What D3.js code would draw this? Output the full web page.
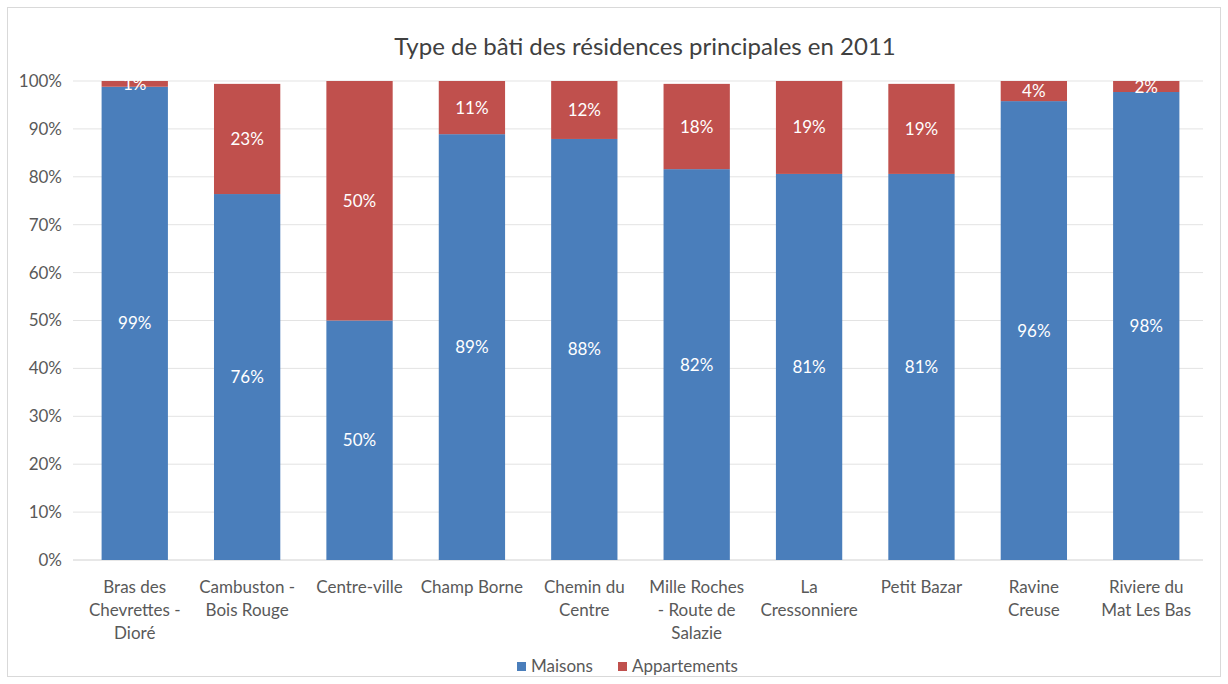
<!DOCTYPE html>
<html>
<head>
<meta charset="utf-8">
<script src="https://cdn.jsdelivr.net/npm/d3@7"></script>
<style>
  body { margin: 0; background: #fff; }
  svg { font-family: Lato, "Open Sans", sans-serif; }
</style>
</head>
<body>
<svg id="chart" width="1228" height="684"></svg>
<script>
// data
const categories = [
  "Bras des|Chevrettes -|Dioré", "Cambuston -|Bois Rouge", "Centre-ville", "Champ Borne",
  "Chemin du|Centre", "Mille Roches|- Route de|Salazie", "La|Cressonniere", "Petit Bazar",
  "Ravine|Creuse", "Riviere du|Mat Les Bas"
];
const maisons = [98.8, 76.4, 50.0, 88.9, 87.9, 81.6, 80.6, 80.6, 95.8, 97.7];
const appartements = [1.2, 23.0, 50.0, 11.1, 12.1, 17.8, 19.4, 18.8, 4.2, 2.3];
const maisonsLabels = ["99%", "76%", "50%", "89%", "88%", "82%", "81%", "81%", "96%", "98%"];
const appartLabels = ["1%", "23%", "50%", "11%", "12%", "18%", "19%", "19%", "4%", "2%"];
const yTicks = [0, 10, 20, 30, 40, 50, 60, 70, 80, 90, 100];
const seriesNames = ["Maisons", "Appartements"];
const colors = ["#4a7ebb", "#c0504d"];

let svg = d3.select("#chart"),
    margin = {top: 81, right: 25, bottom: 124, left: 78},
    width = +svg.attr("width") - margin.left - margin.right,
    height = +svg.attr("height") - margin.top - margin.bottom;

// chart border
svg.append("rect")
  .attr("x", 7.5).attr("y", 7.5)
  .attr("width", 1213).attr("height", 669)
  .attr("fill", "none").attr("stroke", "#d9d9d9");

svg.append("text")
  .attr("x", 645).attr("y", 55)
  .attr("text-anchor", "middle")
  .attr("font-size", 24)
  .attr("fill", "#404040")
  .text("Type de bâti des résidences principales en 2011");

let g = svg.append("g").attr("transform", "translate(" + margin.left + "," + margin.top + ")");

let x = d3.scaleBand()
  .domain(categories)
  .range([0, width])
  .paddingInner(0.41)
  .paddingOuter(0.21);

let y = d3.scaleLinear()
  .domain([0, 100])
  .range([height, 0]);

// gridlines
g.append("g")
  .selectAll("line")
  .data(yTicks)
  .join("line")
  .attr("x1", -5).attr("x2", width)
  .attr("y1", d => y(d)).attr("y2", d => y(d))
  .attr("stroke", d => d === 0 ? "#d0d0d0" : "#e3e3e3");

// y axis labels
let yAxis = g.append("g")
  .call(d3.axisLeft(y).tickValues(yTicks).tickFormat(d => d + "%").tickSize(0).tickPadding(16));
yAxis.select(".domain").remove();
yAxis.selectAll("text").attr("font-size", 17).attr("fill", "#595959").attr("font-family", "Lato, 'Open Sans', sans-serif");

let rows = categories.map((c, i) => ({cat: c, Maisons: maisons[i], Appartements: appartements[i], i: i}));
let stacked = d3.stack().keys(seriesNames)(rows);

let layers = g.selectAll(".layer")
  .data(stacked)
  .join("g")
  .attr("class", "layer")
  .attr("fill", (d, i) => colors[i]);

layers.selectAll("rect")
  .data(d => d)
  .join("rect")
  .attr("x", d => x(d.data.cat))
  .attr("y", d => y(d[1]))
  .attr("width", x.bandwidth())
  .attr("height", d => y(d[0]) - y(d[1]));

// value labels
layers.selectAll("text")
  .data((d, li) => d.map(p => ({p: p, li: li})))
  .join("text")
  .attr("x", d => x(d.p.data.cat) + x.bandwidth() / 2)
  .attr("y", d => y((d.p[0] + d.p[1]) / 2) + 6)
  .attr("text-anchor", "middle")
  .attr("font-size", 17)
  .attr("fill", "#ffffff")
  .text(d => d.li === 0 ? maisonsLabels[d.p.data.i] : appartLabels[d.p.data.i]);

// x labels
let xl = g.append("g")
  .selectAll("text")
  .data(categories)
  .join("text")
  .attr("text-anchor", "middle")
  .attr("font-size", 17)
  .attr("fill", "#595959")
  .attr("transform", d => "translate(" + (x(d) + x.bandwidth() / 2) + "," + (height + 33) + ")");

xl.selectAll("tspan")
  .data(d => d.split("|"))
  .join("tspan")
  .attr("x", 0)
  .attr("dy", (d, i) => i === 0 ? 0 : 23)
  .text(d => d);

// legend
let legend = svg.append("g").attr("transform", "translate(517,666)");
let items = legend.selectAll("g")
  .data(seriesNames)
  .join("g")
  .attr("transform", (d, i) => "translate(" + (i * 101) + ",0)");
items.append("rect")
  .attr("x", 0).attr("y", -4)
  .attr("width", 9).attr("height", 9)
  .attr("fill", (d, i) => colors[i]);
items.append("text")
  .attr("x", 14).attr("y", 6)
  .attr("font-size", 17)
  .attr("fill", "#595959")
  .text(d => d);
</script>
</body>
</html>
